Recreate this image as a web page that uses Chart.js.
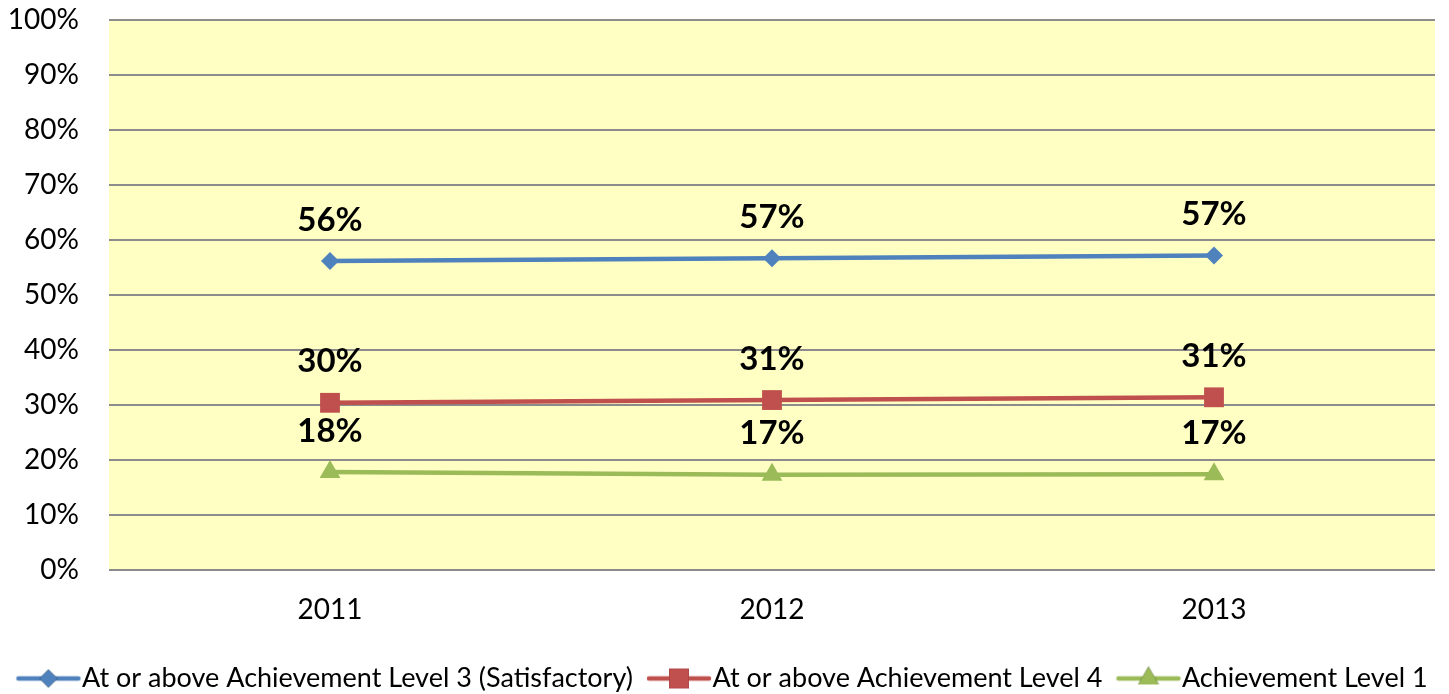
<!DOCTYPE html>
<html lang="en">
  <head>
    <meta charset="UTF-8" />
    <title>Achievement levels 2011-2013</title>
    <style>
      html, body {
        margin: 0;
        padding: 0;
        background: #ffffff;
      }
      #wrap {
        width: 1449px;
        height: 694px;
      }
    </style>
  </head>
  <body>
    <div id="wrap"><canvas id="levelChart" width="1449" height="694"></canvas></div>

    <script src="https://cdn.jsdelivr.net/npm/chart.js@4.4.0/dist/chart.umd.min.js"></script>
    <script>
      // chart data
      const years = ["2011", "2012", "2013"];
      const level3 = [56.2, 56.7, 57.2];
      const level4 = [30.4, 30.9, 31.4];
      const level1 = [17.8, 17.3, 17.4];
      const seriesNames = [
        "At or above Achievement Level 3 (Satisfactory)",
        "At or above Achievement Level 4",
        "Achievement Level 1",
      ];

      const FONT = "Lato, 'Open Sans', sans-serif";

      // legend swatch: a short line with the marker in the middle
      // (image is wider than the legend box so the line sits right next to the text)
      function legendSwatch(color, style, r) {
        const c = document.createElement("canvas");
        c.width = 100;
        c.height = 28;
        const g = c.getContext("2d");
        g.strokeStyle = color;
        g.lineWidth = 4.5;
        g.lineCap = "round";
        g.beginPath();
        g.moveTo(29, 14);
        g.lineTo(89, 14);
        g.stroke();
        Chart.helpers.drawPoint(g, { pointStyle: style, radius: r, rotation: 0, borderWidth: 0 }, 59, 14);
        g.fillStyle = color;
        g.fill();
        return c;
      }

      // yellow plot background
      const plotBg = {
        id: "plotBg",
        beforeDraw(chart) {
          const a = chart.chartArea;
          const ctx = chart.ctx;
          ctx.save();
          ctx.fillStyle = "#FFFFC4";
          ctx.fillRect(a.left, a.top, a.right - a.left, a.bottom - a.top);
          ctx.restore();
        },
      };

      // bold value labels above each point
      const valueLabels = {
        id: "valueLabels",
        afterDatasetsDraw(chart) {
          const ctx = chart.ctx;
          ctx.save();
          ctx.font = "bold 33px " + FONT;
          ctx.fillStyle = "#000";
          ctx.textAlign = "center";
          ctx.textBaseline = "middle";
          chart.data.datasets.forEach((ds, i) => {
            chart.getDatasetMeta(i).data.forEach((pt, j) => {
              ctx.fillText(Math.round(ds.data[j]) + "%", pt.x, pt.y - 41);
            });
          });
          ctx.restore();
        },
      };

      // push the legend row a little lower
      const legendShift = {
        id: "legendShift",
        afterLayout(chart) {
          chart.legend.top += 8;
          chart.legend.bottom += 8;
        },
      };

      const colors = ["#4F81BD", "#C0504D", "#9BBB59"];
      const styles = ["rectRot", "rect", "triangle"];
      const radii = [9, 14, 12];
      const values = [level3, level4, level1];

      const datasets = values.map((v, i) => ({
        label: seriesNames[i],
        data: v,
        borderColor: colors[i],
        backgroundColor: colors[i],
        borderWidth: 4.5,
        pointStyle: styles[i],
        pointRadius: radii[i],
        pointHoverRadius: radii[i],
        pointBorderWidth: 0,
        tension: 0,
      }));

      new Chart(document.getElementById("levelChart"), {
        type: "line",
        data: { labels: years, datasets: datasets },
        plugins: [plotBg, valueLabels, legendShift],
        options: {
          responsive: false,
          animation: false,
          layout: { padding: { top: 20, right: 11, left: 0, bottom: 0 } },
          scales: {
            x: {
              offset: true,
              grid: { display: false, drawTicks: false },
              border: { display: false },
              ticks: { color: "#000", padding: 23, font: { family: FONT, size: 28 } },
              afterFit(s) {
                s.height = 79;
                s.paddingLeft = 0;
                s.paddingRight = 0;
              },
            },
            y: {
              min: 0,
              max: 100,
              grid: { color: "#8C8C8C", lineWidth: 2, drawTicks: false },
              border: { display: false },
              ticks: {
                stepSize: 10,
                color: "#000",
                padding: 30,
                font: { family: FONT, size: 28 },
                callback: (v) => v + "%",
              },
              afterFit(s) {
                s.width = 109;
                s.paddingTop = 0;
                s.paddingBottom = 0;
              },
            },
          },
          plugins: {
            tooltip: { enabled: false },
            legend: {
              position: "bottom",
              labels: {
                usePointStyle: true,
                pointStyleWidth: 58,
                padding: 8,
                color: "#000",
                font: { family: FONT, size: 27 },
                generateLabels(chart) {
                  return chart.data.datasets.map((ds, i) => ({
                    text: ds.label,
                    pointStyle: legendSwatch(colors[i], styles[i], radii[i]),
                    fillStyle: colors[i],
                    strokeStyle: colors[i],
                    lineWidth: 0,
                    datasetIndex: i,
                  }));
                },
              },
            },
          },
        },
      });
    </script>
  </body>
</html>
